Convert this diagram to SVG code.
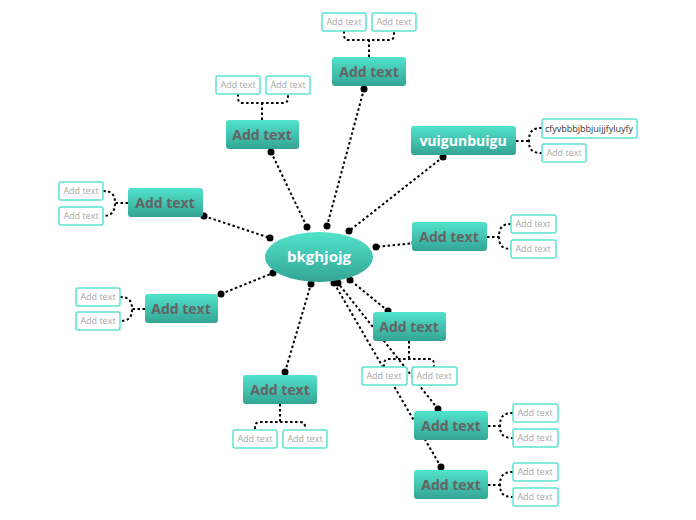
<svg xmlns="http://www.w3.org/2000/svg" width="696" height="520" viewBox="0 0 696 520">
<defs>
<linearGradient id="g" x1="0" y1="0" x2="0" y2="1">
<stop offset="0" stop-color="#52e3cd"/>
<stop offset="1" stop-color="#34a494"/>
</linearGradient>
</defs>
<style>
.n{fill:url(#g);}
.t{font-family:"Open Sans","DejaVu Sans",sans-serif;font-weight:bold;font-size:14px;fill:#646464;text-anchor:middle;}
.w{fill:#ffffff;}
.big{font-size:15px;}
.s{fill:#ffffff;stroke:#5ce3cf;stroke-width:1.5;}
.st{font-family:"Open Sans","DejaVu Sans",sans-serif;font-size:9px;fill:#a8a8a8;text-anchor:middle;}
.c{fill:none;stroke:#000;stroke-width:2;stroke-dasharray:2.5 2.5;}
.d{fill:#000;}
</style>
<rect width="696" height="520" fill="#ffffff"/>
<g id="connectors">
<path class="c" d="M364,89 L327,226"/>
<path class="c" d="M271,152 L307,227"/>
<path class="c" d="M443,157 L349,231"/>
<path class="c" d="M204,216 L270,238"/>
<path class="c" d="M415,243 L376,247"/>
<path class="c" d="M221,294 L273,273"/>
<path class="c" d="M388,311 L350,280"/>
<path class="c" d="M285,372 L311,284"/>
<path class="c" d="M438,409 L338,283"/>
<path class="c" d="M441,467 L334,283"/>
<g class="d">
<circle cx="364" cy="89" r="3.5"/><circle cx="327" cy="226" r="3.5"/>
<circle cx="271" cy="152" r="3.5"/><circle cx="307" cy="227" r="3.5"/>
<circle cx="443" cy="157" r="3.5"/><circle cx="349" cy="231" r="3.5"/>
<circle cx="204" cy="216" r="3.5"/><circle cx="270" cy="238" r="3.5"/>
<circle cx="415" cy="243" r="3.5"/><circle cx="376" cy="247" r="3.5"/>
<circle cx="221" cy="294" r="3.5"/><circle cx="273" cy="273" r="3.5"/>
<circle cx="388" cy="311" r="3.5"/><circle cx="350" cy="280" r="3.5"/>
<circle cx="285" cy="372" r="3.5"/><circle cx="311" cy="284" r="3.5"/>
<circle cx="438" cy="409" r="3.5"/><circle cx="338" cy="283" r="3.5"/>
<circle cx="441" cy="467" r="3.5"/><circle cx="334" cy="283" r="3.5"/>
</g>
<path class="c" d="M369,57 V40 M344,31 V35 Q344,40 349,40 H389 Q394,40 394,35 V31"/>
<path class="c" d="M262,120 V103 M238,94 V98 Q238,103 243,103 H283 Q288,103 288,98 V94"/>
<path class="c" d="M516,141 H529 M542,128 C532,128 529,132 529,141 C529,150 532,153 542,153"/>
<path class="c" d="M128,203 H115 M103,191 C112,191 115,195 115,203 C115,211 112,216 103,216"/>
<path class="c" d="M487,237 H499 M511,224 C502,224 499,228 499,237 C499,245 502,249 511,249"/>
<path class="c" d="M145,309 H132 M120,297 C129,297 132,301 132,309 C132,317 129,321 120,321"/>
<path class="c" d="M409,341 V359 M384,367 V364 Q384,359 389,359 H429 Q434,359 434,364 V367"/>
<path class="c" d="M280,404 V422 M255,429 V427 Q255,422 260,422 H300 Q305,422 305,427 V429"/>
<path class="c" d="M488,426 H500 M513,413 C503,413 500,417 500,426 C500,434 503,438 513,438"/>
<path class="c" d="M488,485 H500 M513,472 C503,472 500,476 500,485 C500,493 503,497 513,497"/>
</g>
<g id="center">
<ellipse class="n" cx="319" cy="257" rx="54" ry="25"/>
<text class="t w big" x="319" y="262">bkghjojg</text>
</g>
<g id="n1">
<rect class="n" x="332" y="57" width="74" height="29" rx="3"/>
<text class="t" x="369" y="77">Add text</text>
<rect class="s" x="322" y="13" width="44" height="18" rx="2"/><text class="st" x="344" y="25">Add text</text>
<rect class="s" x="372" y="13" width="44" height="18" rx="2"/><text class="st" x="394" y="25">Add text</text>
</g>
<g id="n2">
<rect class="n" x="226" y="120" width="73" height="29" rx="3"/>
<text class="t" x="262" y="140">Add text</text>
<rect class="s" x="216" y="76" width="44" height="18" rx="2"/><text class="st" x="238" y="88">Add text</text>
<rect class="s" x="266" y="76" width="44" height="18" rx="2"/><text class="st" x="288" y="88">Add text</text>
</g>
<g id="n3">
<rect class="n" x="411" y="126" width="105" height="29" rx="3"/>
<text class="t w" x="463" y="146">vuigunbuigu</text>
<rect class="s" x="542" y="119" width="95" height="19" rx="2"/><text class="st" x="589" y="132" style="fill:#333">cfyvbbbjbbjuijjfyluyfy</text>
<rect class="s" x="542" y="144" width="44" height="18" rx="2"/><text class="st" x="564" y="156">Add text</text>
</g>
<g id="n4">
<rect class="n" x="128" y="188" width="75" height="29" rx="3"/>
<text class="t" x="165" y="208">Add text</text>
<rect class="s" x="59" y="182" width="44" height="18" rx="2"/><text class="st" x="81" y="194">Add text</text>
<rect class="s" x="59" y="207" width="44" height="18" rx="2"/><text class="st" x="81" y="219">Add text</text>
</g>
<g id="n5">
<rect class="n" x="412" y="222" width="75" height="29" rx="3"/>
<text class="t" x="449" y="242">Add text</text>
<rect class="s" x="511" y="215" width="45" height="18" rx="2"/><text class="st" x="533" y="227">Add text</text>
<rect class="s" x="511" y="240" width="45" height="18" rx="2"/><text class="st" x="533" y="252">Add text</text>
</g>
<g id="n6">
<rect class="n" x="145" y="294" width="73" height="29" rx="3"/>
<text class="t" x="181" y="314">Add text</text>
<rect class="s" x="76" y="288" width="44" height="18" rx="2"/><text class="st" x="98" y="300">Add text</text>
<rect class="s" x="76" y="312" width="44" height="18" rx="2"/><text class="st" x="98" y="324">Add text</text>
</g>
<g id="n7">
<rect class="n" x="373" y="312" width="73" height="29" rx="3"/>
<text class="t" x="409" y="332">Add text</text>
<rect class="s" x="362" y="367" width="45" height="18" rx="2"/><text class="st" x="384" y="379">Add text</text>
<rect class="s" x="412" y="367" width="45" height="18" rx="2"/><text class="st" x="434" y="379">Add text</text>
</g>
<g id="n8">
<rect class="n" x="243" y="375" width="74" height="29" rx="3"/>
<text class="t" x="280" y="395">Add text</text>
<rect class="s" x="233" y="430" width="44" height="18" rx="2"/><text class="st" x="255" y="442">Add text</text>
<rect class="s" x="283" y="430" width="44" height="18" rx="2"/><text class="st" x="305" y="442">Add text</text>
</g>
<g id="n9">
<rect class="n" x="414" y="411" width="74" height="29" rx="3"/>
<text class="t" x="451" y="431">Add text</text>
<rect class="s" x="513" y="404" width="45" height="18" rx="2"/><text class="st" x="535" y="416">Add text</text>
<rect class="s" x="513" y="429" width="45" height="18" rx="2"/><text class="st" x="535" y="441">Add text</text>
</g>
<g id="n10">
<rect class="n" x="414" y="470" width="74" height="29" rx="3"/>
<text class="t" x="451" y="490">Add text</text>
<rect class="s" x="513" y="463" width="45" height="18" rx="2"/><text class="st" x="535" y="475">Add text</text>
<rect class="s" x="513" y="488" width="45" height="18" rx="2"/><text class="st" x="535" y="500">Add text</text>
</g>
</svg>
